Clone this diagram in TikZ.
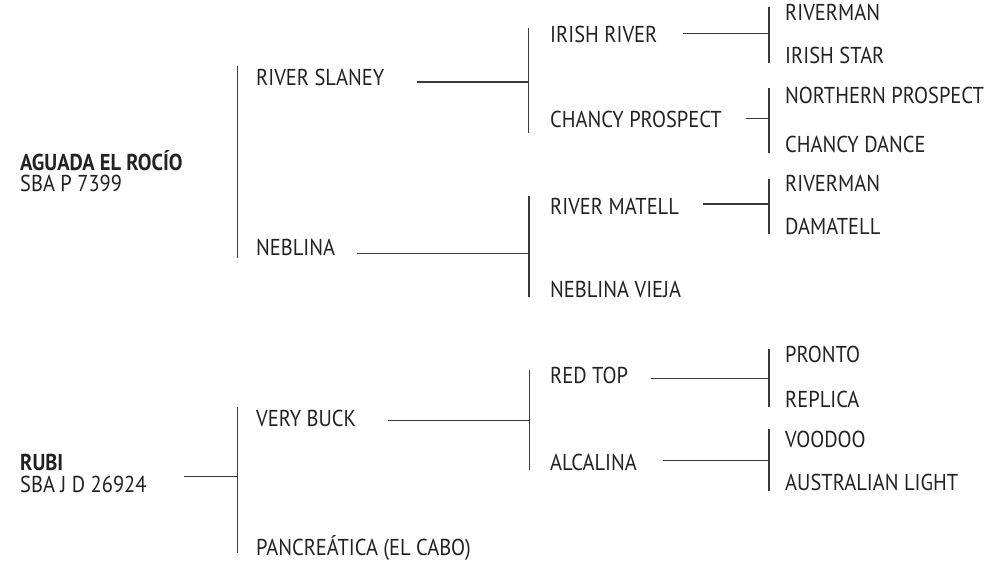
\documentclass[tikz,border=0pt]{standalone}
\usepackage{fontspec}
\usepackage{graphicx}
\setmainfont{PT Sans}
\definecolor{txt}{HTML}{222222}
\definecolor{ln}{HTML}{3A3A3A}
\newcommand\nrw[1]{\scalebox{0.89}[1]{#1}}
\begin{document}
\begin{tikzpicture}[x=1pt,y=-1pt,
  lbl/.style={anchor=base west, inner sep=0pt, font=\fontsize{23}{23}\selectfont, text=txt},
  hd/.style={lbl, font=\fontsize{23}{23}\selectfont\bfseries},
  conn/.style={draw=ln, line width=1.2pt}]
\useasboundingbox (0,0) rectangle (986,561);
% ---------- labels ----------
\node[hd]  (agu)  at (20,171) {\nrw{AGUADA EL ROCÍO}};
\node[lbl] (agus) at (20,192) {\nrw{SBA P 7399}};
\node[lbl] (rsl)  at (256,86) {\nrw{RIVER SLANEY}};
\node[lbl] (neb)  at (256,256) {\nrw{NEBLINA}};
\node[lbl] (iri)  at (550,43) {\nrw{IRISH RIVER}};
\node[lbl] (cha)  at (550,128) {\nrw{CHANCY PROSPECT}};
\node[lbl] (rma)  at (550,215) {\nrw{RIVER MATELL}};
\node[lbl] (nev)  at (550,298) {\nrw{NEBLINA VIEJA}};
\node[lbl] (rvm1) at (785,21) {\nrw{RIVERMAN}};
\node[lbl] (ist)  at (785,64) {\nrw{IRISH STAR}};
\node[lbl] (nop)  at (785,104) {\nrw{NORTHERN PROSPECT}};
\node[lbl] (chd)  at (785,153) {\nrw{CHANCY DANCE}};
\node[lbl] (rvm2) at (785,192) {\nrw{RIVERMAN}};
\node[lbl] (dam)  at (785,235) {\nrw{DAMATELL}};
\node[hd]  (rub)  at (20,470) {\nrw{RUBI}};
\node[lbl] (rubs) at (20,492) {\nrw{SBA J D 26924}};
\node[lbl] (vbk)  at (256,427) {\nrw{VERY BUCK}};
\node[lbl] (pan)  at (256,555) {\nrw{PANCREÁTICA (EL CABO)}};
\node[lbl] (rtp)  at (550,384) {\nrw{RED TOP}};
\node[lbl] (alc)  at (550,470) {\nrw{ALCALINA}};
\node[lbl] (pro)  at (785,363) {\nrw{PRONTO}};
\node[lbl] (rep)  at (785,407) {\nrw{REPLICA}};
\node[lbl] (voo)  at (785,447) {\nrw{VOODOO}};
\node[lbl] (aus)  at (785,490) {\nrw{AUSTRALIAN LIGHT}};
% ---------- bars ----------
\coordinate (aT) at (237.5,66);  \coordinate (aB) at (237.5,258);
\coordinate (bT) at (528.5,28);  \coordinate (bB) at (528.5,133);
\coordinate (cT) at (769,7);     \coordinate (cB) at (769,63);
\coordinate (dT) at (769,88);    \coordinate (dB) at (769,153);
\coordinate (eT) at (529,196);   \coordinate (eB) at (529,297);
\coordinate (fT) at (769,179);   \coordinate (fB) at (769,234);
\coordinate (gT) at (237.7,407); \coordinate (gB) at (237.7,553);
\coordinate (hT) at (529.5,370); \coordinate (hB) at (529.5,470);
\coordinate (iT) at (769,349);   \coordinate (iB) at (769,407);
\coordinate (jT) at (769,429);   \coordinate (jB) at (769,491);
\foreach \b in {a,b,c,d,e,f,g,h,i,j}{\draw[conn] (\b T) -- (\b B);}
% ---------- horizontal connectors ----------
\coordinate (rslS) at (416.7,82);  \coordinate (rslE) at (528.5,82);
\coordinate (nebS) at (357,253.5); \coordinate (nebE) at (529,253.5);
\coordinate (iriS) at (683,33.3);  \coordinate (iriE) at (769,33.3);
\coordinate (chaS) at (745.5,118.3); \coordinate (chaE) at (769,118.3);
\coordinate (rmaS) at (703,204);   \coordinate (rmaE) at (769,204);
\coordinate (rubS) at (184,476.7); \coordinate (rubE) at (237.7,476.7);
\coordinate (vbkS) at (388,420.8); \coordinate (vbkE) at (529.5,420.8);
\coordinate (rtpS) at (650.5,378.7); \coordinate (rtpE) at (769,378.7);
\coordinate (alcS) at (663,460.8); \coordinate (alcE) at (769,460.8);
\foreach \h in {rsl,neb,iri,cha,rma,rub,vbk,rtp,alc}{\draw[conn] (\h S) -- (\h E);}
\end{tikzpicture}
\end{document}
